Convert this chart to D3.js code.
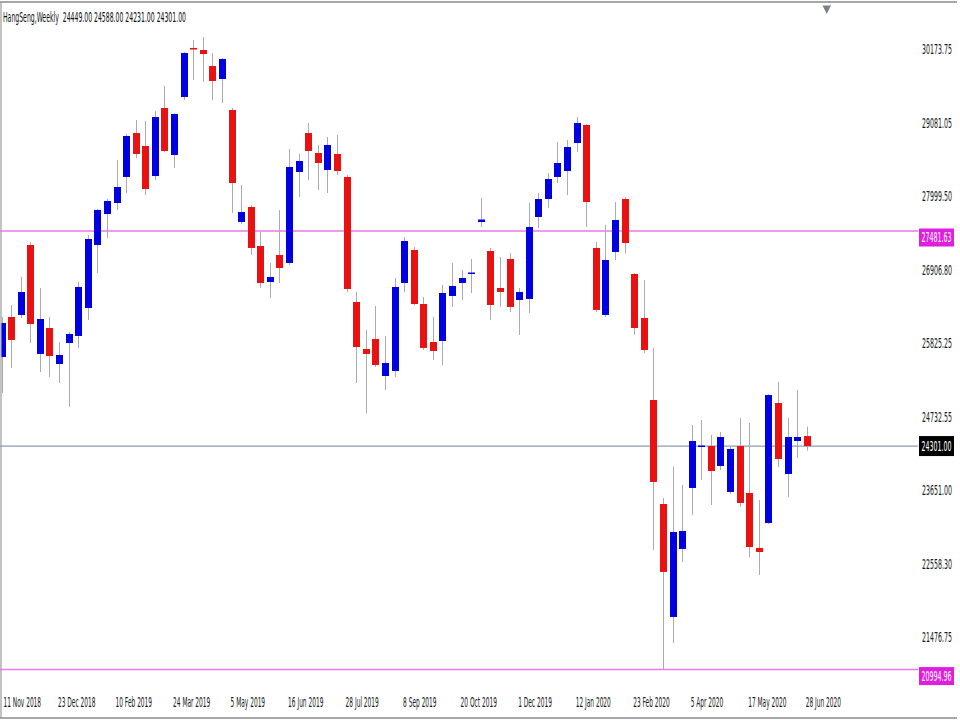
<!DOCTYPE html>
<html><head><meta charset="utf-8">
<script src="https://cdn.jsdelivr.net/npm/d3@7"></script>
<style>html,body{margin:0;padding:0;background:#fff;} svg{display:block;}</style>
</head><body>
<svg id="chart" width="960" height="720"></svg>
<script>
const symbol = "HangSeng";
const period = "Weekly";
const weeks = ["2018-11-11","2018-11-18","2018-11-25","2018-12-02","2018-12-09","2018-12-16","2018-12-23","2018-12-30",
"2019-01-06","2019-01-13","2019-01-20","2019-01-27","2019-02-10","2019-02-17","2019-02-24","2019-03-03","2019-03-10",
"2019-03-17","2019-03-24","2019-03-31","2019-04-07","2019-04-14","2019-04-21","2019-04-28","2019-05-05","2019-05-12",
"2019-05-19","2019-05-26","2019-06-02","2019-06-09","2019-06-16","2019-06-23","2019-06-30","2019-07-07","2019-07-14",
"2019-07-21","2019-07-28","2019-08-04","2019-08-11","2019-08-18","2019-08-25","2019-09-01","2019-09-08","2019-09-15",
"2019-09-22","2019-09-29","2019-10-06","2019-10-13","2019-10-20","2019-10-27","2019-11-03","2019-11-10","2019-11-17",
"2019-11-24","2019-12-01","2019-12-08","2019-12-15","2019-12-22","2019-12-29","2020-01-05","2020-01-12","2020-01-19",
"2020-01-26","2020-02-02","2020-02-09","2020-02-16","2020-02-23","2020-03-01","2020-03-08","2020-03-15","2020-03-22",
"2020-03-29","2020-04-05","2020-04-12","2020-04-19","2020-04-26","2020-05-03","2020-05-10","2020-05-17","2020-05-24",
"2020-05-31","2020-06-07","2020-06-14","2020-06-21","2020-06-28"];
const opens = [25618,26210,26240,27275,25663,26047,25515,25825,25929,26343,
27275,27733,27896,28281,28931,28739,28295,29301,28606,29464,
30189,30159,29922,29730,29272,27615,27837,27260,26728,27127,
27009,28355,28931,28636,28384,28621,28281,26432,25737,25885,
25337,25411,26713,27201,26402,25840,25855,26521,26713,26853,
27615,27186,26639,27068,26461,26476,27689,27955,28281,28369,
28783,29050,27231,26240,27171,27955,26846,26195,24982,23444,
21773,22779,23681,24287,24302,24006,23622,24302,23607,22794,
23163,24938,23888,24376,24449.00];
const highs = [26210,26387,26802,27319,26639,26210,25840,25988,26728,27423,
27807,27955,28532,28917,29124,29109,29257,29627,29227,30129,
30307,30351,30115,30041,29301,28162,27866,27467,27009,27793,
28695,28621,29079,28754,28872,28902,28310,26580,26018,26373,
25929,26787,27393,27245,26506,26210,26683,27009,26905,27068,
27970,27230,27097,27157,26639,27896,28044,28340,28798,28828,
29168,29064,27319,27571,27911,27985,26861,26757,25752,23533,
23992,23725,24613,24687,24465,24509,24287,24716,24642,23503,
25071,25249,24716,25130,24588.00];
const lows = [25086,25456,26195,25825,25397,25323,25234,24879,25752,26166,
26861,27378,27793,28044,28562,28014,28236,28650,28414,29419,
29715,29686,29419,29375,27748,27585,27127,26639,26491,26713,
26979,27985,28236,28088,28044,28310,26580,25234,24790,25471,
25130,25323,26580,26387,25722,25574,25500,26358,26461,26565,
27541,26166,26358,26284,25944,26269,27526,27822,28192,28014,
28650,27541,26284,26210,27053,27157,25944,25678,22764,20994.96,
21388,22586,23282,23799,23429,23947,23592,23400,22660,22394,
23148,23992,23548,24125,24231.00];
const closes = [26121,25870,26580,26106,26180,25633,25648,25959,26654,27364,
27793,27926,28133,28887,28621,28103,29168,28665,29212,30115,
30166,30100,29700,30026,28192,27763,27231,26713,26802,26935,
28429,28517,28665,28488,28754,28369,26624,25766,25663,25500,
25530,26654,27334,26402,25752,25707,26565,26669,26787,26868,
27652,26387,26580,26358,26580,27541,27955,28251,28488,28724,
29079,27911,26314,27053,27645,27304,26047,25722,23770,22439,
23030,23045,24376,24309,23932,24435,24258,23459,22808,22734,
25056,24110,24435,24435,24301.00];
const priceTicks = [30173.75, 29081.05, 27999.50, 26906.80, 25825.25, 24732.55, 23651.00, 22558.30, 21476.75];
const timeTicks = ["2018-11-11","2018-12-23","2019-02-10","2019-03-24","2019-05-05","2019-06-16","2019-07-28",
"2019-09-08","2019-10-20","2019-12-01","2020-01-12","2020-02-23","2020-04-05","2020-05-17","2020-06-28"];
const levelLines = [27481.63, 20994.96];
const bidPrice = 24301.00;

const FONT = "DejaVu Sans";
const FS = 14;
const svg = d3.select("#chart");
const parse = d3.timeParse("%Y-%m-%d");
const fmtDate = d3.timeFormat("%-d %b %Y");
const fmtP = d3.format(".2f");

const x = d3.scalePoint().domain(weeks).range([1.5, 806.7]);
const y = d3.scaleLinear().domain([21476.75, 30173.75]).range([637, 49]);
const bars = weeks.map((w, i) => ({w, o: opens[i], h: highs[i], l: lows[i], c: closes[i]}));

// horizontally condense start-anchored text around its own x
function squeeze(sel, k) {
  sel.each(function () {
    const x0 = +(this.getAttribute("x") || 0);
    d3.select(this).attr("transform", `translate(${x0 * (1 - k)},0) scale(${k},1)`);
  });
}

svg.append("defs").append("clipPath").attr("id", "plot")
  .append("rect").attr("x", 1.5).attr("y", 3).attr("width", 916).attr("height", 686);

// frame
svg.append("line").attr("x1", 0).attr("x2", 957).attr("y1", 2).attr("y2", 2).attr("stroke", "#8a8a8a").attr("stroke-width", 1.5);
svg.append("line").attr("x1", 1).attr("x2", 1).attr("y1", 2).attr("y2", 718).attr("stroke", "#9a9a9a").attr("stroke-width", 1.2);
svg.append("line").attr("x1", 0).attr("x2", 957).attr("y1", 718).attr("y2", 718).attr("stroke", "#8a8a8a").attr("stroke-width", 1.5);

// horizontal level lines (behind candles)
const lines = svg.append("g");
lines.selectAll("line.lvl").data(levelLines).join("line").attr("class", "lvl")
  .attr("x1", 0).attr("x2", 918).attr("y1", d => y(d)).attr("y2", d => y(d))
  .attr("stroke", "#ea78ea").attr("stroke-width", 1.4);
lines.append("line").attr("x1", 0).attr("x2", 918).attr("y1", y(bidPrice)).attr("y2", y(bidPrice))
  .attr("stroke", "#8e9cb2").attr("stroke-width", 1.2);

// candles
const g = svg.append("g").attr("clip-path", "url(#plot)");
g.selectAll("line.wick").data(bars).join("line").attr("class", "wick")
  .attr("x1", d => Math.round(x(d.w)) + 0.5).attr("x2", d => Math.round(x(d.w)) + 0.5)
  .attr("y1", d => y(d.h)).attr("y2", d => y(d.l))
  .attr("stroke", "#ababab").attr("stroke-width", 1);
g.selectAll("rect.body").data(bars).join("rect").attr("class", "body")
  .attr("x", d => Math.round(x(d.w)) - 3)
  .attr("width", 7)
  .attr("y", d => Math.min(y(d.o), y(d.c)))
  .attr("height", d => Math.max(1.5, Math.abs(y(d.o) - y(d.c))))
  .attr("fill", d => d.c >= d.o ? "#0000e0" : "#e81212");

// price axis
const yAxis = svg.append("g").attr("transform", "translate(918,0)")
  .call(d3.axisRight(y).tickValues(priceTicks).tickSize(0).tickPadding(4).tickFormat(fmtP));
yAxis.select(".domain").remove();
yAxis.selectAll("text").attr("font-family", FONT).attr("font-size", FS).attr("fill", "#1a1a1a");
squeeze(yAxis.selectAll("text"), 0.45);

// time axis
const xAxis = svg.append("g").attr("transform", "translate(0,694)")
  .call(d3.axisBottom(x).tickValues(timeTicks).tickSize(0).tickPadding(3).tickFormat(d => fmtDate(parse(d))));
xAxis.select(".domain").remove();
xAxis.selectAll("text").attr("font-family", FONT).attr("font-size", FS).attr("fill", "#1a1a1a")
  .attr("text-anchor", "start").attr("x", d => (x(d) < 3 ? 1.5 : -1.5));
squeeze(xAxis.selectAll("text"), 0.42);

// level labels
const lab = svg.append("g");
levelLines.forEach(p => {
  lab.append("rect").attr("x", 919).attr("y", y(p) - 2.5).attr("width", 35).attr("height", 18).attr("fill", "#e01ee0");
  const t = lab.append("text").attr("x", 921.5).attr("y", y(p) + 6.5).attr("dy", "0.35em")
    .attr("font-family", FONT).attr("font-size", FS).attr("fill", "#fff").text(fmtP(p));
  squeeze(t, 0.45);
});
lab.append("rect").attr("x", 919).attr("y", y(bidPrice) - 10).attr("width", 35).attr("height", 20).attr("fill", "#000");
const bt = lab.append("text").attr("x", 921.5).attr("y", y(bidPrice)).attr("dy", "0.35em")
  .attr("font-family", FONT).attr("font-size", FS).attr("fill", "#fff").text(fmtP(bidPrice));
squeeze(bt, 0.45);

// header
const last = bars[bars.length - 1];
const header = svg.append("text").attr("x", 3).attr("y", 22.5)
  .attr("font-family", FONT).attr("font-size", FS).attr("fill", "#111")
  .attr("xml:space", "preserve").style("white-space", "pre")
  .text(`${symbol},${period}  ${fmtP(last.o)} ${fmtP(last.h)} ${fmtP(last.l)} ${fmtP(last.c)}`);
squeeze(header, 0.44);

// chart shift marker
svg.append("path").attr("d", "M822.5,5.5 L831,5.5 L826.75,14 Z").attr("fill", "#7c8389");
</script>
</body></html>
